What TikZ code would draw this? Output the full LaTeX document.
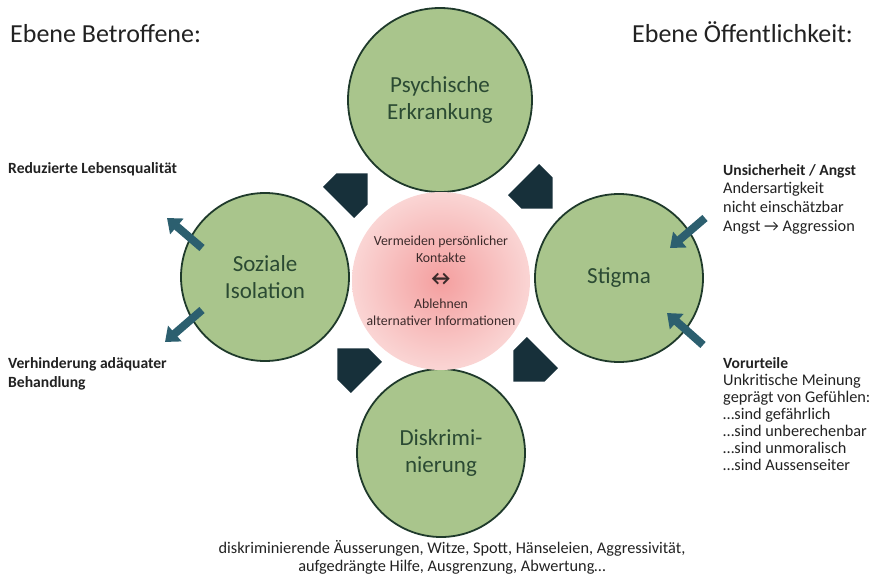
\documentclass[tikz,border=0pt]{standalone}
\usepackage{fontspec}
\setmainfont{Carlito}
\usetikzlibrary{arrows.meta}
\definecolor{stgreen}{HTML}{A9C58C}
\definecolor{stborder}{HTML}{1F3A2B}
\definecolor{sttext}{HTML}{2B4A33}
\definecolor{stdark}{HTML}{17303A}
\definecolor{stteal}{HTML}{2C5F6F}
\definecolor{stpinkin}{HTML}{F49F9F}
\definecolor{stpinkout}{HTML}{FAD5D4}
\definecolor{stcore}{HTML}{3B2A2A}
\definecolor{stplain}{HTML}{222222}

\begin{document}
\begin{tikzpicture}[x=1pt, y=-1pt,
            circ/.style={circle, draw=stborder, line width=1.8pt, fill=stgreen, text=sttext, align=center, inner sep=0pt, font=\fontsize{23}{27}\selectfont},
            core/.style={circle, minimum size=178pt, inner sep=0pt, shading=radial, inner color=stpinkin, outer color=stpinkout, text=stcore, align=center, font=\fontsize{13.8}{17}\selectfont},
            pointer/.style={stteal, line width=8pt, -{Triangle[width=20pt,length=13pt]}},
            side/.style={anchor=north west, inner sep=0pt, align=left, text=stplain, font=\fontsize{16.3}{18.7}\selectfont},
            sidebold/.style={side, font=\fontsize{15.6}{19}\selectfont\bfseries},
            title/.style={anchor=base west, inner sep=0pt, text=stplain, font=\fontsize{26}{30}\selectfont}
        ]
            \useasboundingbox (0,0) rectangle (873,576);

            % Titles
            \node[title] (ebenel) at (10,42) {Ebene Betroffene:};
            \node[title] (ebener) at (632,42) {Ebene Öffentlichkeit:};

            % Circles
            \node[circ, minimum size=184pt] (psych) at (440,100) {Psychische\\Erkrankung};
            \node[circ, minimum size=168pt] (stigma) at (619,278) {Stigma};
            \node[circ, minimum size=168pt] (diskr) at (441,453) {Diskrimi-\\nierung};
            \node[circ, minimum size=168pt] (isol) at (265,277) {Soziale\\Isolation};
            \node[core] (kern) at (441,281) {Vermeiden persönlicher\\Kontakte\\[6pt]{\bfseries\fontsize{21}{17}\selectfont ↔}\\[6pt]Ablehnen\\alternativer Informationen};

            % Cycle arrows
            \fill[stdark, shift={(352,189)}, rotate=45] (-19,-22) -- (0,-22) -- (22,0) -- (0,22) -- (-19,22) -- cycle;
            \fill[stdark, shift={(537,193)}, rotate=-45] (-19,-22) -- (0,-22) -- (22,0) -- (0,22) -- (-19,22) -- cycle;
            \fill[stdark, shift={(529,366)}, rotate=-135] (-19,-22) -- (0,-22) -- (22,0) -- (0,22) -- (-19,22) -- cycle;
            \fill[stdark, shift={(353,364)}, rotate=135] (-19,-22) -- (0,-22) -- (22,0) -- (0,22) -- (-19,22) -- cycle;

            % Causes and effects
            \coordinate (angst) at (705,218);
            \coordinate (angstin) at (670,248);
            \coordinate (vorurt) at (703,345);
            \coordinate (vorurtin) at (667,313);
            \coordinate (lebensout) at (202,248);
            \coordinate (lebens) at (167,218);
            \coordinate (behandout) at (202,310);
            \coordinate (behand) at (165,342);
            \draw[pointer] (angst) -- (angstin);
            \draw[pointer] (vorurt) -- (vorurtin);
            \draw[pointer] (lebensout) -- (lebens);
            \draw[pointer] (behandout) -- (behand);

            % Side texts
            \node[side] (angsttext) at (723,164) {\textbf{\fontsize{15.6}{18.7}\selectfont Unsicherheit / Angst}\\Andersartigkeit\\nicht einschätzbar\\Angst → Aggression};
            \node[side, font=\fontsize{16.3}{17}\selectfont] (vorurttext) at (723,357) {\textbf{\fontsize{15.6}{17}\selectfont Vorurteile}\\Unkritische Meinung\\geprägt von Gefühlen:\\…sind gefährlich\\…sind unberechenbar\\…sind unmoralisch\\…sind Aussenseiter};
            \node[sidebold] (lebenstext) at (8,162) {Reduzierte Lebensqualität};
            \node[sidebold] (behandtext) at (8,357) {Verhinderung adäquater\\Behandlung};
            \node[anchor=north, inner sep=0pt, align=center, text=stplain, font=\fontsize{16.3}{18.5}\selectfont] (diskrtext) at (452,540) {diskriminierende Äusserungen, Witze, Spott, Hänseleien, Aggressivität,\\aufgedrängte Hilfe, Ausgrenzung, Abwertung…};
        \end{tikzpicture}
\end{document}
